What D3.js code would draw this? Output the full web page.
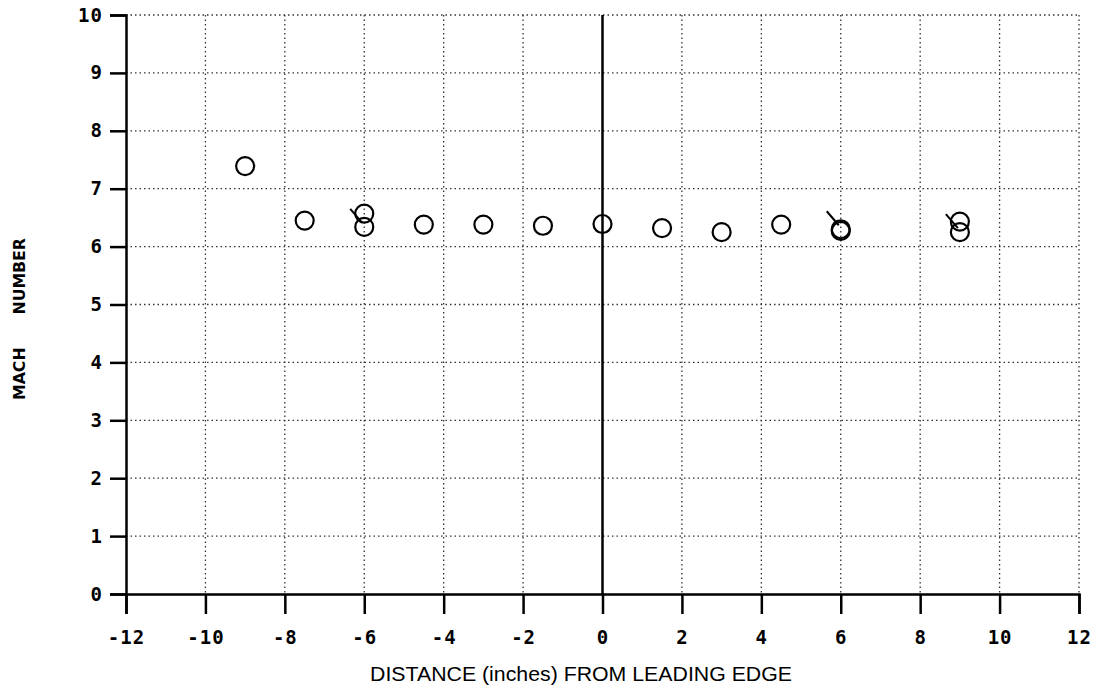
<!DOCTYPE html>
<html>
<head>
<meta charset="utf-8">
<script src="https://cdn.jsdelivr.net/npm/d3@7"></script>
<style>
	body { margin: 0; background: #fff; }
	.tick text { font-family: "DejaVu Sans Mono", monospace; font-weight: bold; font-size: 19px; letter-spacing: 1px; fill: #000; }
</style>
</head>
<body>
<svg width="1099" height="686"></svg>
<script>
// Data
var distance = [-9, -7.5, -6, -6, -4.5, -3, -1.5, 0, 1.5, 3, 4.5, 6, 6, 9, 9];
var mach     = [7.39, 6.45, 6.57, 6.34, 6.38, 6.38, 6.36, 6.39, 6.32, 6.25, 6.38, 6.30, 6.27, 6.43, 6.25];
var flagged  = [false, false, false, true, false, false, false, false, false, false, false, true, false, false, true];

var xTicks = [-12, -10, -8, -6, -4, -2, 0, 2, 4, 6, 8, 10, 12];
var yTicks = [0, 1, 2, 3, 4, 5, 6, 7, 8, 9, 10];

// SVG params
var svg = d3.select("svg"),
	marginLeft = 126, marginTop = 15,
	width = 1079 - marginLeft,
	height = 594 - marginTop;

var xScale = d3.scaleLinear().domain([-12, 12]).range([0, width]),
	yScale = d3.scaleLinear().domain([0, 10]).range([height, 0]);

var g = svg.append("g")
	.attr("transform", "translate(" + marginLeft + "," + marginTop + ")");

// dotted grid
g.selectAll(".vgrid")
	.data(xTicks.filter(d => d != -12 && d != 0))
	.enter().append("line")
	.attr("x1", d => xScale(d)).attr("x2", d => xScale(d))
	.attr("y1", 0).attr("y2", height)
	.attr("stroke", "#333").attr("stroke-width", 1.3)
	.attr("stroke-dasharray", "1.5,3");

g.selectAll(".hgrid")
	.data(yTicks.filter(d => d != 0))
	.enter().append("line")
	.attr("x1", 0).attr("x2", width)
	.attr("y1", d => yScale(d)).attr("y2", d => yScale(d))
	.attr("stroke", "#333").attr("stroke-width", 1.3)
	.attr("stroke-dasharray", "1.5,3");

// solid line at the leading edge
g.append("line")
	.attr("x1", xScale(0)).attr("x2", xScale(0))
	.attr("y1", 0).attr("y2", height)
	.attr("stroke", "#000").attr("stroke-width", 2.5);

// axes
var xAxis = g.append("g")
	.attr("transform", "translate(0," + height + ")")
	.call(d3.axisBottom(xScale).tickValues(xTicks).tickFormat(d => String(d)).tickSize(20).tickPadding(13));
var yAxis = g.append("g")
	.call(d3.axisLeft(yScale).tickValues(yTicks).tickFormat(d => String(d)).tickSize(16).tickPadding(7));

[xAxis, yAxis].forEach(function(a){
	a.select(".domain").attr("stroke", "#000").attr("stroke-width", 2.5);
	a.selectAll(".tick line").attr("stroke", "#000").attr("stroke-width", 2.5);
});
xAxis.selectAll(".tick text").attr("dy", "0.9em");

// flags on some of the symbols
g.selectAll(".flag")
	.data(distance.filter((d, i) => flagged[i]).map((d, i) => [d, mach.filter((m, j) => flagged[j])[i]]))
	.enter().append("line")
	.attr("x1", d => xScale(d[0]) - 2).attr("y1", d => yScale(d[1]) - 4)
	.attr("x2", d => xScale(d[0]) - 14).attr("y2", d => yScale(d[1]) - 18)
	.attr("stroke", "#000").attr("stroke-width", 2);

// points
g.selectAll(".pt")
	.data(mach)
	.enter().append("circle")
	.attr("cx", (d, i) => xScale(distance[i]))
	.attr("cy", d => yScale(d))
	.attr("r", 9)
	.attr("fill", "none")
	.attr("stroke", "#000")
	.attr("stroke-width", 2.2);

// axis titles
svg.append("text")
	.attr("x", 581).attr("y", 681)
	.attr("text-anchor", "middle")
	.style("font-family", "'Liberation Sans', Arial, sans-serif")
	.style("font-size", "20px")
	.attr("textLength", 422)
	.attr("lengthAdjust", "spacingAndGlyphs")
	.text("DISTANCE (inches) FROM LEADING EDGE");

svg.append("text")
	.attr("transform", "translate(25,319) rotate(-90)")
	.attr("text-anchor", "middle")
	.style("font-family", "'DejaVu Sans Condensed', 'DejaVu Sans', sans-serif")
	.style("font-weight", "bold")
	.style("font-size", "15px")
	.attr("textLength", 162)
	.attr("lengthAdjust", "spacingAndGlyphs")
	.attr("xml:space", "preserve")
	.text("MACH      NUMBER");
</script>
</body>
</html>
